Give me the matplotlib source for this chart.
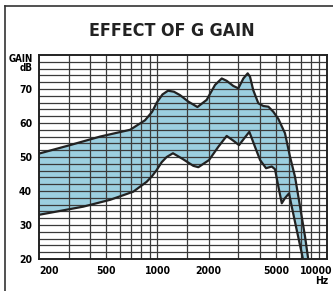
import matplotlib
matplotlib.use("Agg")
import matplotlib.pyplot as plt
import matplotlib.transforms as mtransforms
from matplotlib.lines import Line2D
from matplotlib.ticker import NullLocator

plt.rcParams['font.family'] = ['DejaVu Sans']
plt.rcParams['font.stretch'] = 'condensed'

# upper gain curve (Hz, dB)
upper_hz = [200, 305, 458, 689, 844, 930, 990, 1070, 1154, 1250, 1358, 1520,
            1720, 1950, 2185, 2394, 2560, 2800, 3000, 3210, 3405, 3515, 3670,
            3935, 4210, 4510, 4825, 5165, 5650, 6050, 6475, 6935, 7420, 7850]
upper_db = [51, 53.5, 56, 58, 60.8, 63.3, 66, 68.4, 69.5, 69.2, 68.2, 66.3,
            64.7, 66.8, 71.2, 73.1, 72.4, 70.9, 70.2, 73.1, 74.6, 73.6, 69.7,
            65.8, 65.0, 64.8, 63.3, 61.2, 57, 50.1, 44.2, 35.4, 26.6, 18]

# lower gain curve (Hz, dB)
lower_hz = [200, 365, 525, 720, 863, 930, 990, 1060, 1133, 1234, 1400, 1627,
            1742, 2014, 2285, 2560, 2800, 3027, 3250, 3482, 3760, 4030, 4370,
            4720, 4935, 5165, 5410, 5650, 5970, 6195, 6630, 7095, 7350]
lower_db = [33, 35.4, 37.4, 39.8, 42.7, 44.4, 46.2, 48.5, 50, 51.1, 49.5, 47.4,
            47.0, 49.1, 53.0, 56.2, 54.8, 53.5, 55.5, 57.4, 53.0, 49.1, 46.7,
            47.2, 46.4, 41.3, 36.4, 37.9, 39.3, 35.4, 28.5, 21.7, 18]

x_ticks = [200, 500, 1000, 2000, 5000, 10000]
y_ticks = [20, 30, 40, 50, 60, 70]
x_grid = [300, 400, 500, 600, 700, 800, 900, 1000, 1500, 2000, 3000, 4000,
          5000, 6000, 7000, 8000, 9000]

fig = plt.figure(figsize=(3.33, 2.91), dpi=100)
ax = fig.add_axes([39 / 333, 32 / 291, 288 / 333, 204 / 291])

ax.fill(upper_hz + lower_hz[::-1], upper_db + lower_db[::-1],
        color='#9ccfe0', lw=0, zorder=1)
for v in x_grid:
    ax.axvline(v, color='#3a3a3a', lw=0.9, zorder=2)
for h in range(22, 80, 2):
    ax.axhline(h, color='#3a3a3a', lw=0.9, zorder=2)
ax.plot(upper_hz, upper_db, color='#222222', lw=1.6, zorder=3)
ax.plot(lower_hz, lower_db, color='#222222', lw=1.6, zorder=3)

ax.set_xscale('log')
ax.set_xlim(200, 10000)
ax.set_ylim(20, 80)
ax.set_xticks(x_ticks)
ax.set_xticklabels([str(t) for t in x_ticks])
ax.set_yticks(y_ticks)
ax.set_yticklabels([str(t) for t in y_ticks])
ax.xaxis.set_minor_locator(NullLocator())
ax.tick_params(length=0, labelsize=7.5, pad=5)
for lab in ax.get_xticklabels() + ax.get_yticklabels():
    lab.set_fontweight('bold')
xl = ax.get_xticklabels()
xl[0].set_ha('left')
xl[-1].set_ha('right')
xl[-1].set_transform(xl[-1].get_transform() +
                     mtransforms.ScaledTranslation(5 / 100, 0, fig.dpi_scale_trans))
for s in ax.spines.values():
    s.set_linewidth(1.4)
    s.set_color('#222222')
    s.set_zorder(4)

fig.text(33 / 333, 1 - 58.5 / 291, 'GAIN', ha='right', va='center',
         fontsize=7, fontweight='bold')
fig.text(33 / 333, 1 - 67.5 / 291, 'dB', ha='right', va='center',
         fontsize=7, fontweight='bold')
fig.text(328 / 333, 1 - 281 / 291, 'Hz', ha='right', va='center',
         fontsize=7.5, fontweight='bold')
fig.text(172 / 333, 1 - 31.5 / 291, 'EFFECT OF G GAIN', ha='center', va='center',
         fontsize=12.8, fontweight='bold', color='#222222')

# outer frame
fig.add_artist(Line2D([5 / 333, 5 / 333], [0, 1 - 6 / 291], color='#333333', lw=1.2))
fig.add_artist(Line2D([5 / 333, 1], [1 - 6 / 291, 1 - 6 / 291], color='#333333', lw=1.2))

fig.savefig('out.png', dpi=100)
